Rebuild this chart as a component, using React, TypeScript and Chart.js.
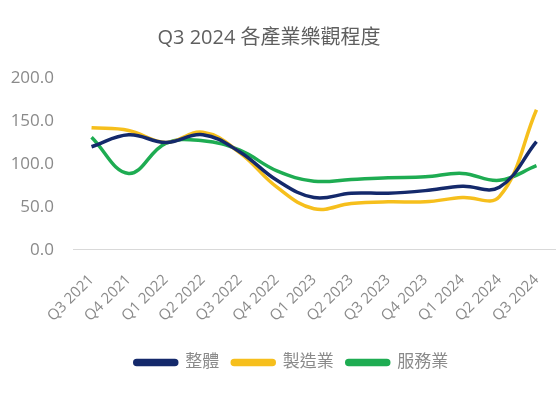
import React, { useEffect, useRef } from "react";
import { Chart, registerables } from "chart.js";

Chart.register(...registerables);

const categories = ["Q3 2021", "Q4 2021", "Q1 2022", "Q2 2022", "Q3 2022", "Q4 2022", "Q1 2023", "Q2 2023", "Q3 2023", "Q4 2023", "Q1 2024", "Q2 2024", "Q3 2024"];
const overall = [120, 134, 125, 134, 114, 81, 61, 66, 66, 69, 74, 73, 126];
const manufacturing = [142, 139, 125, 137, 113, 73, 48, 54, 56, 56, 61, 62, 163];
const services = [131, 89, 124, 127, 116, 92, 80, 82, 84, 85, 89, 81, 98];
const seriesNames = ["整體", "製造業", "服務業"];
const title = "Q3 2024 各產業樂觀程度";

const FONT = "'Open Sans', 'Noto Sans CJK TC', sans-serif";

const shiftPlugin = {
  id: "shiftBlocks",
  afterLayout(chart: any) {
    const t = chart.titleBlock;
    if (t) {
      t.left = 0;
      t.right = 538;
      t.width = 538;
    }
    const l = chart.legend;
    if (l) {
      l.left += 9;
      l.right += 9;
    }
  },
};

export default function App() {
  const ref = useRef<HTMLCanvasElement | null>(null);
  useEffect(() => {
    if (!ref.current) return;
    const mk = (label: string, data: number[], color: string) => ({
      label,
      data,
      borderColor: color,
      backgroundColor: color,
      borderWidth: 3.5,
      pointRadius: 0,
      tension: 0.4,
      fill: false,
    });
    const chart = new Chart(ref.current, {
      type: "line",
      data: {
        labels: categories,
        datasets: [
          mk(seriesNames[0], overall, "#14296b"),
          mk(seriesNames[1], manufacturing, "#f6bf1c"),
          mk(seriesNames[2], services, "#1eac52"),
        ],
      },
      plugins: [shiftPlugin],
      options: {
        animation: false,
        responsive: false,
        maintainAspectRatio: false,
        layout: { padding: { left: 10, right: 4, top: 0, bottom: 13 } },
        plugins: {
          title: {
            display: true,
            text: title,
            color: "#5f5f5f",
            font: { family: FONT, size: 20, weight: "normal" },
            padding: { top: 26, bottom: 28 },
          },
          legend: {
            position: "bottom",
            labels: {
              color: "#8a8a8a",
              font: { family: FONT, size: 17 },
              boxWidth: 42,
              boxHeight: 4,
              padding: 13,
              useBorderRadius: true,
              borderRadius: 2,
            },
          },
          tooltip: { enabled: false },
        },
        scales: {
          x: {
            offset: true,
            grid: { display: false, drawTicks: false },
            border: { display: true, color: "#d9d9d9", width: 1 },
            afterFit: (scale: any) => {
              scale.paddingLeft = 0;
              scale.paddingRight = 0;
              scale.height -= 5;
            },
            ticks: {
              color: "#8a8a8a",
              font: { family: FONT, size: 15 },
              minRotation: 45,
              maxRotation: 45,
              padding: 21,
              autoSkip: false,
            },
          },
          y: {
            min: 0,
            max: 200,
            grid: { display: false, drawTicks: false },
            border: { display: false },
            afterFit: (scale: any) => {
              scale.width = 63;
            },
            ticks: {
              stepSize: 50,
              color: "#8a8a8a",
              font: { family: FONT, size: 17 },
              padding: 19,
              callback: (v: any) => Number(v).toFixed(1),
            },
          },
        },
      },
    });
    return () => chart.destroy();
  }, []);
  return (
    <div style={{ position: "fixed", left: 0, top: 0, width: 559, height: 394, background: "#fff" }}>
      <canvas ref={ref} width={559} height={394} />
    </div>
  );
}
